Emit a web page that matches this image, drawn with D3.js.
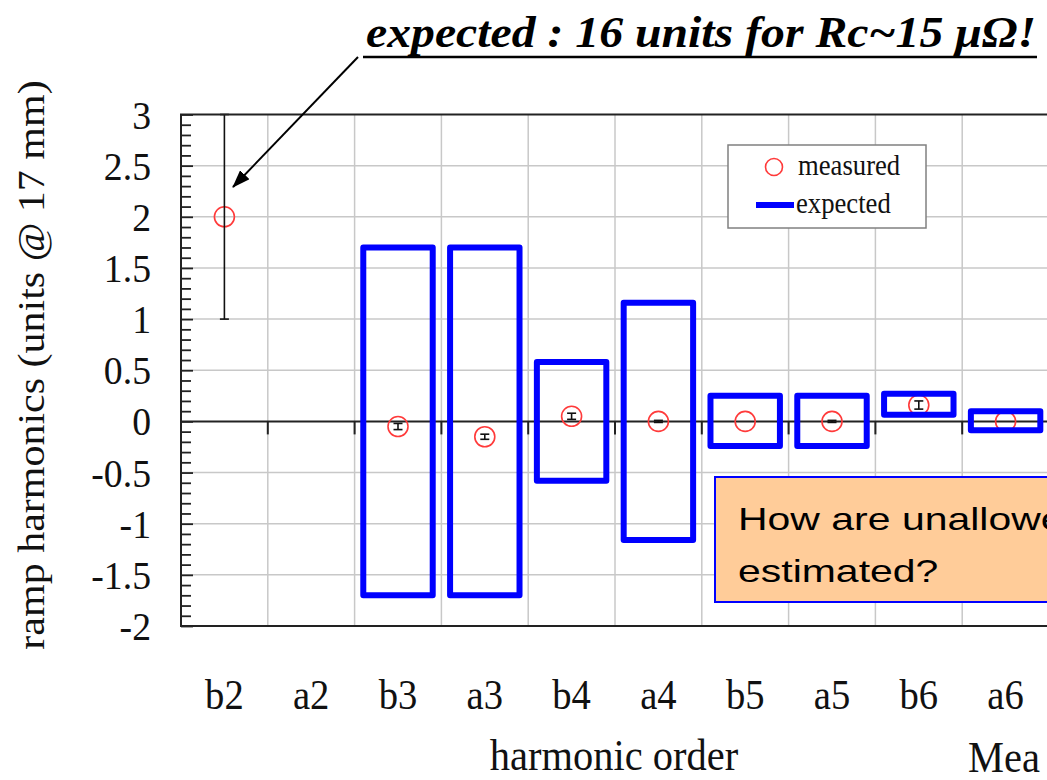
<!DOCTYPE html>
<html>
<head>
<meta charset="utf-8">
<script src="https://cdn.jsdelivr.net/npm/d3@7"></script>
<style>
  html, body { margin: 0; padding: 0; background: #ffffff; overflow: hidden; }
  svg { display: block; }
</style>
</head>
<body>
<script>
// ---------------- data ----------------
const categories = ["b2", "a2", "b3", "a3", "b4", "a4", "b5", "a5", "b6", "a6"];
const measured = [2.0, null, -0.05, -0.15, 0.05, 0.0, 0.0, 0.0, 0.16, 0.0];
const measuredErr = [1.0, null, 0.03, 0.025, 0.03, 0.01, 0.0, 0.01, 0.04, 0.0];
const expectedLow = [null, null, -1.7, -1.7, -0.58, -1.16, -0.24, -0.24, 0.065, -0.087];
const expectedHigh = [null, null, 1.7, 1.7, 0.58, 1.16, 0.25, 0.25, 0.27, 0.10];
const yTickValues = [3, 2.5, 2, 1.5, 1, 0.5, 0, -0.5, -1, -1.5, -2];
const yTickLabels = ["3", "2.5", "2", "1.5", "1", "0.5", "0", "-0.5", "-1", "-1.5", "-2"];
const legendLabels = ["measured", "expected"];
const titleText = "expected : 16 units for Rc~15 \u03bc\u03a9!";
const yTitle = "ramp harmonics (units @ 17 mm)";
const xTitle = "harmonic order";
const noteLines = ["How are unallowed", "estimated?"];
const cutText = "Mea";

// ---------------- setup ----------------
const W = 1047, H = 780;
const serif = "'Liberation Serif', 'Times New Roman', serif";
const sans = "'Liberation Sans', Arial, sans-serif";
const BLUE = "#0000ff", RED = "#ff3a3a", GRID = "#c8c8c8";

const svg = d3.select("body").append("svg").attr("width", W).attr("height", H);

const plotL = 181, plotT = 114.5, plotB = 626, plotR = 181 + 86.8 * categories.length;
const x = d3.scaleBand().domain(categories).range([plotL, plotR]).padding(0);
const y = d3.scaleLinear().domain([-2, 3]).range([plotB, plotT]);
const cx = c => x(c) + x.bandwidth() / 2;

const plot = svg.append("g");

// grid lines
plot.append("g").selectAll("line.h")
  .data(yTickValues.filter(v => v !== 3 && v !== -2 && v !== 0))
  .join("line")
  .attr("x1", plotL).attr("x2", plotR)
  .attr("y1", d => y(d)).attr("y2", d => y(d))
  .attr("stroke", GRID).attr("stroke-width", 1.5);

plot.append("g").selectAll("line.v")
  .data(categories.slice(1))
  .join("line")
  .attr("x1", d => x(d)).attr("x2", d => x(d))
  .attr("y1", plotT).attr("y2", plotB)
  .attr("stroke", GRID).attr("stroke-width", 1.5);

// zero line with downward tick marks at category boundaries
plot.append("line")
  .attr("x1", plotL).attr("x2", plotR)
  .attr("y1", y(0)).attr("y2", y(0))
  .attr("stroke", "#222").attr("stroke-width", 2);
plot.append("g").selectAll("line")
  .data(categories.slice(1))
  .join("line")
  .attr("x1", d => x(d)).attr("x2", d => x(d))
  .attr("y1", y(0)).attr("y2", y(0) + 13)
  .attr("stroke", "#222").attr("stroke-width", 2);

// measured circles
const mIdx = categories.map((c, i) => i).filter(i => measured[i] !== null);
plot.append("g").selectAll("circle")
  .data(mIdx)
  .join("circle")
  .attr("cx", i => cx(categories[i]))
  .attr("cy", i => y(measured[i]))
  .attr("r", 10)
  .attr("fill", "none")
  .attr("stroke", RED).attr("stroke-width", 1.6);

// error bars
const eb = plot.append("g").attr("stroke", "#111").attr("stroke-width", 1.6);
mIdx.forEach(i => {
  const c = cx(categories[i]);
  const lo = y(measured[i] - measuredErr[i]);
  const hi = y(measured[i] + measuredErr[i]);
  const cap = 4.5;
  if (measuredErr[i] > 0) {
    eb.append("line").attr("x1", c).attr("x2", c).attr("y1", lo).attr("y2", hi);
    eb.append("line").attr("x1", c - cap).attr("x2", c + cap).attr("y1", lo).attr("y2", lo);
    eb.append("line").attr("x1", c - cap).attr("x2", c + cap).attr("y1", hi).attr("y2", hi);
  }
});

// expected boxes
const eIdx = categories.map((c, i) => i).filter(i => expectedLow[i] !== null);
const boxW = x.bandwidth() * 0.8;
plot.append("g").selectAll("rect")
  .data(eIdx)
  .join("rect")
  .attr("x", i => cx(categories[i]) - boxW / 2)
  .attr("y", i => y(expectedHigh[i]))
  .attr("width", boxW)
  .attr("height", i => y(expectedLow[i]) - y(expectedHigh[i]))
  .attr("fill", "none")
  .attr("stroke", BLUE).attr("stroke-width", 6).attr("stroke-linejoin", "round");

// frame
plot.append("path")
  .attr("d", `M${plotR},${plotT} L${plotL},${plotT} L${plotL},${plotB} L${plotR},${plotB} Z`)
  .attr("fill", "none").attr("stroke", "#222").attr("stroke-width", 2);

// y minor ticks (inside, pointing right)
const minor = d3.range(-20, 31).map(v => v / 10);
const minorAxis = d3.axisRight(y).tickValues(minor.filter(v => Math.abs(v * 2 - Math.round(v * 2)) > 1e-6))
  .tickSize(10).tickFormat("");
const majorAxis = d3.axisRight(y).tickValues(yTickValues).tickSize(12).tickFormat("");
[minorAxis, majorAxis].forEach(ax => {
  const g = plot.append("g").attr("transform", `translate(${plotL},0)`).call(ax);
  g.select(".domain").remove();
  g.selectAll("line").attr("stroke", "#222").attr("stroke-width", 1.8);
});

// y tick labels
svg.append("g").selectAll("text")
  .data(yTickValues)
  .join("text")
  .attr("transform", d => `translate(151,${y(d) + 14}) scale(0.92,1)`)
  .attr("text-anchor", "end")
  .attr("font-family", serif).attr("font-size", 41)
  .attr("fill", "#111")
  .text((d, i) => yTickLabels[i]);

// x tick labels
svg.append("g").selectAll("text")
  .data(categories)
  .join("text")
  .attr("transform", d => `translate(${cx(d)},709) scale(0.92,1)`)
  .attr("text-anchor", "middle")
  .attr("font-family", serif).attr("font-size", 42)
  .attr("fill", "#111")
  .text(d => d);

// axis titles
svg.append("text")
  .attr("transform", "translate(614,770) scale(0.92,1)")
  .attr("text-anchor", "middle")
  .attr("font-family", serif).attr("font-size", 44)
  .attr("fill", "#111")
  .text(xTitle);

svg.append("text")
  .attr("transform", "translate(44,365) scale(0.92,1) rotate(-90)")
  .attr("text-anchor", "middle")
  .attr("font-family", serif).attr("font-size", 42)
  .attr("fill", "#111")
  .text(yTitle);

svg.append("text")
  .attr("transform", "translate(968,772) scale(0.92,1)")
  .attr("font-family", serif).attr("font-size", 44)
  .attr("fill", "#111")
  .text(cutText);

// legend
const lg = svg.append("g");
lg.append("rect").attr("x", 728).attr("y", 145).attr("width", 198).attr("height", 83)
  .attr("fill", "#fff").attr("stroke", "#808080").attr("stroke-width", 1.5);
lg.append("circle").attr("cx", 774).attr("cy", 167).attr("r", 8.5)
  .attr("fill", "none").attr("stroke", RED).attr("stroke-width", 1.6);
lg.append("line").attr("x1", 756).attr("x2", 794).attr("y1", 205).attr("y2", 205)
  .attr("stroke", BLUE).attr("stroke-width", 6);
lg.selectAll("text").data(legendLabels).join("text")
  .attr("transform", (d, i) => `translate(${i === 0 ? 798 : 796},${i === 0 ? 175 : 213}) scale(0.92,1)`)
  .attr("font-family", serif).attr("font-size", 29)
  .attr("fill", "#111")
  .text(d => d);

// note box
const nb = svg.append("g");
nb.append("rect").attr("x", 715).attr("y", 477).attr("width", 360).attr("height", 125)
  .attr("fill", "#ffcc99").attr("stroke", BLUE).attr("stroke-width", 2);
nb.selectAll("text").data(noteLines).join("text")
  .attr("transform", (d, i) => `translate(738,${530 + i * 52}) scale(1.28,1)`)
  .attr("font-family", sans).attr("font-size", 32)
  .attr("fill", "#000")
  .text(d => d);

// title annotation + arrow
svg.append("defs").append("marker")
  .attr("id", "arrow").attr("markerUnits", "userSpaceOnUse")
  .attr("viewBox", "0 0 18 13").attr("markerWidth", 18).attr("markerHeight", 13)
  .attr("refX", 17).attr("refY", 6.5).attr("orient", "auto")
  .append("path").attr("d", "M0,0 L18,6.5 L0,13 Z").attr("fill", "#000");

svg.append("text")
  .attr("x", 366).attr("y", 47)
  .attr("font-family", serif).attr("font-size", 44)
  .attr("font-weight", "bold").attr("font-style", "italic")
  .attr("textLength", 670).attr("lengthAdjust", "spacingAndGlyphs")
  .attr("fill", "#000")
  .text(titleText);
svg.append("line").attr("x1", 363).attr("x2", 1037).attr("y1", 57).attr("y2", 57)
  .attr("stroke", "#000").attr("stroke-width", 2.5);
svg.append("line").attr("x1", 358).attr("y1", 57).attr("x2", 233).attr("y2", 187)
  .attr("stroke", "#000").attr("stroke-width", 2)
  .attr("marker-end", "url(#arrow)");
</script>
</body>
</html>
